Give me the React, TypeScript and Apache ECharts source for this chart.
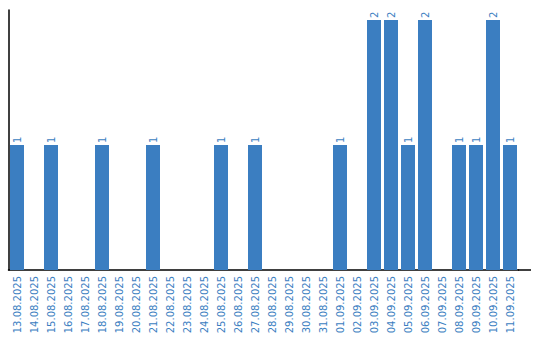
import React, { useEffect, useRef } from "react";
import * as echarts from "echarts";

const categories = [
  "13.08.2025", "14.08.2025", "15.08.2025", "16.08.2025", "17.08.2025",
  "18.08.2025", "19.08.2025", "20.08.2025", "21.08.2025", "22.08.2025",
  "23.08.2025", "24.08.2025", "25.08.2025", "26.08.2025", "27.08.2025",
  "28.08.2025", "29.08.2025", "30.08.2025", "31.08.2025", "01.09.2025",
  "02.09.2025", "03.09.2025", "04.09.2025", "05.09.2025", "06.09.2025",
  "07.09.2025", "08.09.2025", "09.09.2025", "10.09.2025", "11.09.2025",
];
const values = [
  1, 0, 1, 0, 0,
  1, 0, 0, 1, 0,
  0, 0, 1, 0, 1,
  0, 0, 0, 0, 1,
  0, 2, 2, 1, 2,
  0, 1, 1, 2, 1,
];

const BLUE = "#3b7ec1";

export default function App() {
  const ref = useRef<HTMLDivElement>(null);
  useEffect(() => {
    document.body.style.margin = "0";
    if (!ref.current) return;
    const chart = echarts.init(ref.current, null, { renderer: "svg" });
    chart.setOption({
      animation: false,
      grid: { left: 8.5, right: 21.5, top: 10, bottom: 70, containLabel: false },
      xAxis: {
        type: "category",
        data: categories,
        axisLine: { show: true, lineStyle: { color: "#000", width: 1.5 } },
        axisTick: { show: false },
        axisLabel: {
          rotate: 90,
          interval: 0,
          margin: 6,
          color: BLUE,
          fontFamily: "DejaVu Sans",
          fontSize: 10,
        },
      },
      yAxis: {
        type: "value",
        min: 0,
        max: 2.08,
        axisLine: { show: true, onZero: false, lineStyle: { color: "#000", width: 1.5 } },
        axisTick: { show: false },
        axisLabel: { show: false },
        splitLine: { show: false },
      },
      graphic: [
        {
          type: "line",
          shape: { x1: 518, y1: 270, x2: 531, y2: 270 },
          style: { stroke: "#000", lineWidth: 1.5 },
        },
      ],
      series: [
        {
          type: "bar",
          data: values.map((v) => (v === 0 ? null : v)),
          barWidth: 14,
          itemStyle: { color: BLUE },
          label: {
            show: true,
            position: "top",
            rotate: 90,
            align: "left",
            verticalAlign: "middle",
            distance: 2,
            color: BLUE,
            fontFamily: "DejaVu Sans",
            fontSize: 10,
          },
        },
      ],
    });
    return () => chart.dispose();
  }, []);
  return <div ref={ref} style={{ width: 540, height: 340 }} />;
}
